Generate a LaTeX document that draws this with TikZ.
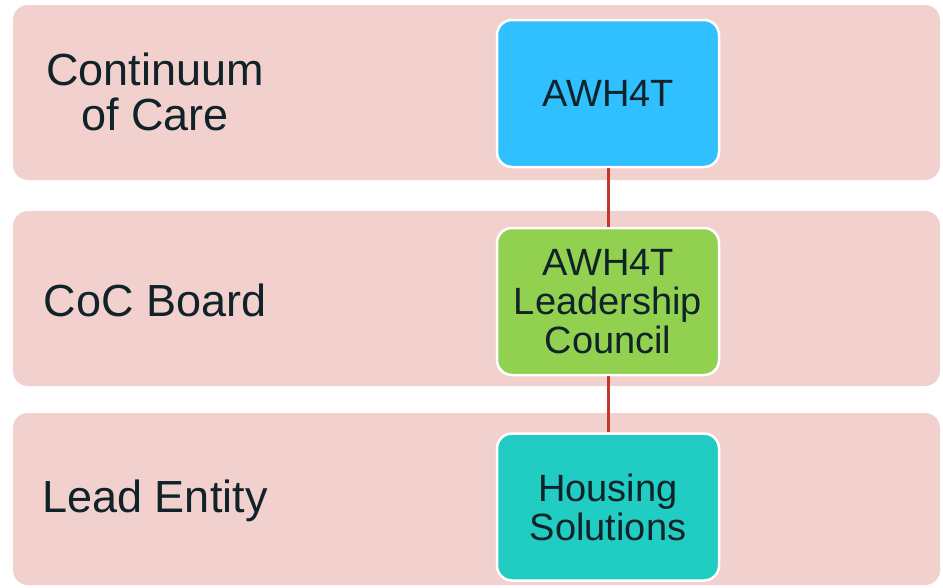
\documentclass[tikz,border=0pt]{standalone}
\usepackage{fontspec}
\setmainfont{Liberation Sans}
\definecolor{band}{HTML}{F2D0CE}
\definecolor{txt}{HTML}{0F2328}
\definecolor{bluebox}{HTML}{30BFFF}
\definecolor{greenbox}{HTML}{92D050}
\definecolor{tealbox}{HTML}{21CCC3}
\definecolor{link}{HTML}{C0392B}
\begin{document}
\begin{tikzpicture}[x=1pt,y=-1pt,
  bandbox/.style={fill=band,draw=none,rounded corners=15pt},
  unitbox/.style={draw=white,line width=2.5pt,rounded corners=15pt,minimum width=222pt,minimum height=147pt,text=txt,align=center,inner sep=0pt,font=\fontsize{38}{39}\selectfont},
  lbl/.style={text=txt,align=center,font=\fontsize{45}{45}\selectfont},
  conn/.style={draw=link,line width=3pt}]
\useasboundingbox (0,0) rectangle (943,587);
\fill[bandbox] (13,5) rectangle (940,180);
\fill[bandbox] (13,211) rectangle (940,386);
\fill[bandbox] (13,413) rectangle (940,585);
\node[lbl] (l1) at (155,92) {Continuum\\of Care};
\node[lbl] (l2) at (155,300) {CoC Board};
\node[lbl] (l3) at (155,501) {Lead Entity};
\node[unitbox,fill=bluebox] (b1) at (608,93.5) {AWH4T};
\node[unitbox,fill=greenbox] (b2) at (608,301.5) {AWH4T\\Leadership\\Council};
\node[unitbox,fill=tealbox] (b3) at (608,507) {Housing\\Solutions};
\draw[conn] (b1.south) -- (b2.north);
\draw[conn] (b2.south) -- (b3.north);
\end{tikzpicture}
\end{document}
